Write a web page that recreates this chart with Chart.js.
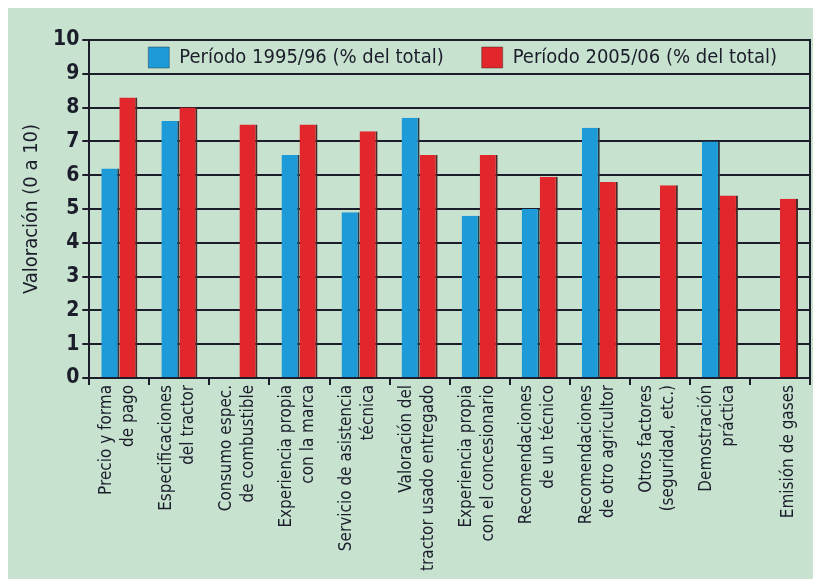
<!DOCTYPE html>
<html>
<head>
<meta charset="utf-8">
<script src="https://cdn.jsdelivr.net/npm/chart.js@4/dist/chart.umd.min.js"></script>
<style>
  html, body { margin: 0; padding: 0; background: #ffffff; }
  #panel {
    position: absolute; left: 8px; top: 8px;
    width: 805px; height: 571px;
    background: #c8e2d0;
  }
</style>
</head>
<body>
<div id="panel"><canvas id="grafico"></canvas></div>
<script>
const categorias = [
  ["Precio y forma", "de pago"],
  ["Especificaciones", "del tractor"],
  ["Consumo espec.", "de combustible"],
  ["Experiencia propia", "con la marca"],
  ["Servicio de asistencia", "técnica"],
  ["Valoración del", "tractor usado entregado"],
  ["Experiencia propia", "con el concesionario"],
  ["Recomendaciones", "de un técnico"],
  ["Recomendaciones", "de otro agricultor"],
  ["Otros factores", "(seguridad, etc.)"],
  ["Demostración", "práctica"],
  ["", "Emisión de gases"]
];
const periodo9596 = [6.2, 7.6, null, 6.6, 4.9, 7.7, 4.8, 5.0, 7.4, null, 7.0, null];
const periodo0506 = [8.3, 8.0, 7.5, 7.5, 7.3, 6.6, 6.6, 5.95, 5.8, 5.7, 5.4, 5.3];
const ticksY = [0, 1, 2, 3, 4, 5, 6, 7, 8, 9, 10];

const fuente = "'Liberation Sans Narrow', 'DejaVu Sans Condensed', 'Roboto', sans-serif";
const tinta = "#1b1d2b";
const sepLeyenda = 38;
const tamEtiqueta = 17;
const altoLinea = 1.3;

Chart.defaults.font.family = fuente;
Chart.defaults.color = tinta;

// legend sits inside the plot, in one row along the top
const leyendaEnFila = {
  id: "leyendaEnFila",
  beforeUpdate(chart) {
    if (chart.legend) chart.legend.isHorizontal = () => true;
  },
  afterLayout(chart) {
    const l = chart.legend;
    const ca = chart.chartArea;
    if (!l) return;
    l.maxWidth = 2000;
    l.fit();
    l.left = ca.left + 21;
    l.right = ca.right + 200;
    l.width = l.right - l.left;
    l.top = ca.top + 7 - sepLeyenda;
    l.bottom = l.top + l.height;
  }
};

new Chart(document.getElementById("grafico"), {
  type: "bar",
  data: {
    labels: categorias,
    datasets: [
      {
        label: "Período 1995/96 (% del total)",
        data: periodo9596,
        backgroundColor: "#1c9bd8",
        borderColor: "#2c3a44",
        borderWidth: { right: 2 },
        borderSkipped: false
      },
      {
        label: "Período 2005/06 (% del total)",
        data: periodo0506,
        backgroundColor: "#e1272b",
        borderColor: "#4a2a26",
        borderWidth: { right: 2 },
        borderSkipped: false
      }
    ]
  },
  plugins: [leyendaEnFila],
  options: {
    responsive: true,
    maintainAspectRatio: false,
    animation: false,
    categoryPercentage: 0.6,
    barPercentage: 1.0,
    layout: { padding: { left: 8, top: 32, right: 0, bottom: 8 } },
    plugins: {
      tooltip: { enabled: false },
      legend: {
        position: "chartArea",
        align: "start",
        labels: {
          boxWidth: 21,
          boxHeight: 21,
          padding: sepLeyenda,
          color: tinta,
          font: { size: 20 }
        }
      }
    },
    scales: {
      x: {
        grid: {
          drawOnChartArea: false,
          drawTicks: true,
          tickLength: 7,
          color: tinta,
          lineWidth: 2
        },
        border: { display: true, color: tinta, width: 2 },
        ticks: {
          minRotation: 90,
          maxRotation: 90,
          autoSkip: false,
          padding: 0,
          labelOffset: -13,
          color: tinta,
          font: { size: tamEtiqueta, lineHeight: altoLinea }
        },
        afterFit: (eje) => { eje.paddingRight = 0; }
      },
      y: {
        min: 0,
        max: 10,
        afterBuildTicks: (eje) => { eje.ticks = ticksY.map((v) => ({ value: v })); },
        grid: { color: tinta, lineWidth: 2, tickLength: 7 },
        border: { color: tinta, width: 2 },
        ticks: {
          padding: 3,
          color: tinta,
          font: { size: 21, weight: "bold" }
        },
        title: {
          display: true,
          text: "Valoración (0 a 10)",
          color: tinta,
          font: { size: 20 },
          padding: { bottom: 6 }
        }
      },
      y2: {
        position: "right",
        min: 0,
        max: 10,
        grid: { display: false },
        border: { display: true, color: tinta, width: 2 },
        ticks: { display: false },
        afterFit: (eje) => { eje.width = 3; }
      }
    }
  }
});
</script>
</body>
</html>
